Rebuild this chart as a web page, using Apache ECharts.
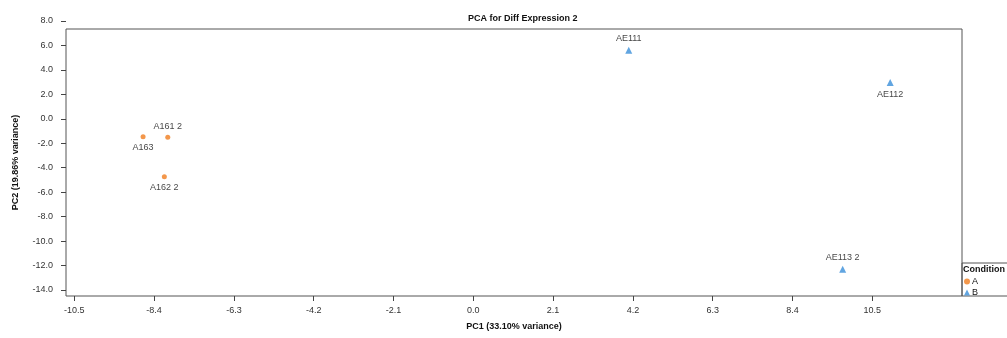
<!DOCTYPE html>
<html><head><meta charset="utf-8">
<script src="https://cdn.jsdelivr.net/npm/echarts@6/dist/echarts.min.js"></script>
<style>html,body{margin:0;padding:0;background:#fff}#c{width:1007px;height:338px}</style>
</head><body><div id="c"></div>
<script>
// Data
const samplesA = ['A163', 'A161 2', 'A162 2'];
const pc1A = [-8.69, -8.04, -8.13];
const pc2A = [-1.46, -1.51, -4.74];
const samplesB = ['AE111', 'AE112', 'AE113 2'];
const pc1B = [4.09, 10.97, 9.72];
const pc2B = [5.6, 2.97, -12.31];
const xTicks = [-10.5, -8.4, -6.3, -4.2, -2.1, 0.0, 2.1, 4.2, 6.3, 8.4, 10.5];
const yTickMin = -14, yTickMax = 8, yTickStep = 2;
const labelSideA = ['bottom', 'top', 'bottom'];
const labelSideB = ['top', 'bottom', 'top'];

const FONT = 'Liberation Sans, Arial, sans-serif';
const ORANGE = '#F07D1E', BLUE = '#3A8EDA';
const mk = (xs, ys, ns, sides) => xs.map((x, i) => ({value: [x, ys[i]], name: ns[i], label: {position: sides[i]}}));

const chart = echarts.init(document.getElementById('c'), null, {renderer: 'canvas'});
chart.setOption({
  animation: false,
  textStyle: {fontFamily: FONT},
  title: {text: 'PCA for Diff Expression 2', left: 463, top: 9,
    textStyle: {fontSize: 9, fontWeight: 'bold', color: '#111', fontFamily: FONT}},
  grid: [
    {left: 66, right: 45, top: 29, bottom: 42, show: true, borderColor: '#555', borderWidth: 1, backgroundColor: 'transparent'},
    {left: 66, right: 45, top: 21, bottom: 48, show: false}
  ],
  xAxis: [
    {gridIndex: 0, type: 'value', min: -10.718, max: 12.86, position: 'bottom',
     axisLine: {show: false, onZero: false}, splitLine: {show: false},
     axisTick: {show: true, length: 5, customValues: xTicks, lineStyle: {color: '#444'}},
     axisLabel: {customValues: xTicks, formatter: v => v.toFixed(1), fontSize: 9, color: '#333', margin: 10, fontFamily: FONT},
     name: 'PC1 (33.10% variance)', nameLocation: 'middle', nameGap: 26,
     nameTextStyle: {fontSize: 9, fontWeight: 'bold', color: '#111', fontFamily: FONT}},
    {gridIndex: 1, type: 'value', min: -10.718, max: 12.86, show: false, axisLine: {onZero: false}}
  ],
  yAxis: [
    {gridIndex: 0, type: 'value', min: -14.49, max: 7.346, position: 'left',
     axisLine: {show: false, onZero: false}, axisTick: {show: false}, axisLabel: {show: false}, splitLine: {show: false},
     name: 'PC2 (19.86% variance)', nameLocation: 'middle', nameGap: 46, nameRotate: 90,
     nameTextStyle: {fontSize: 9, fontWeight: 'bold', color: '#111', fontFamily: FONT}},
    {gridIndex: 1, type: 'value', min: yTickMin, max: yTickMax, interval: yTickStep, position: 'left',
     axisLine: {show: false, onZero: false}, splitLine: {show: false},
     axisTick: {show: true, length: 5, lineStyle: {color: '#444'}},
     axisLabel: {formatter: v => v.toFixed(1), fontSize: 9, color: '#333', margin: 13, fontFamily: FONT}}
  ],
  legend: {orient: 'vertical', left: 964, top: 277, padding: 0, itemWidth: 6, itemHeight: 6, itemGap: 2,
    textStyle: {fontSize: 9, color: '#111', padding: [0, 0, 0, -3], fontFamily: FONT},
    data: [{name: 'A', icon: 'circle'}, {name: 'B', icon: 'triangle'}]},
  graphic: [
    {type: 'rect', shape: {x: 962, y: 263, width: 60, height: 33}, style: {fill: 'none', stroke: '#555', lineWidth: 1}},
    {type: 'text', left: 963, top: 265, style: {text: 'Condition', font: 'bold 9px ' + FONT, fill: '#111'}}
  ],
  series: [
    {name: 'A', type: 'scatter', xAxisIndex: 0, yAxisIndex: 0, symbol: 'circle', symbolSize: 5,
     itemStyle: {color: ORANGE},
     label: {show: true, formatter: p => p.name, fontSize: 9, color: '#111', distance: 4, fontFamily: FONT},
     data: mk(pc1A, pc2A, samplesA, labelSideA)},
    {name: 'B', type: 'scatter', xAxisIndex: 0, yAxisIndex: 0, symbol: 'triangle', symbolSize: 7,
     itemStyle: {color: BLUE},
     label: {show: true, formatter: p => p.name, fontSize: 9, color: '#111', distance: 4, fontFamily: FONT},
     data: mk(pc1B, pc2B, samplesB, labelSideB)}
  ]
});
</script></body></html>
